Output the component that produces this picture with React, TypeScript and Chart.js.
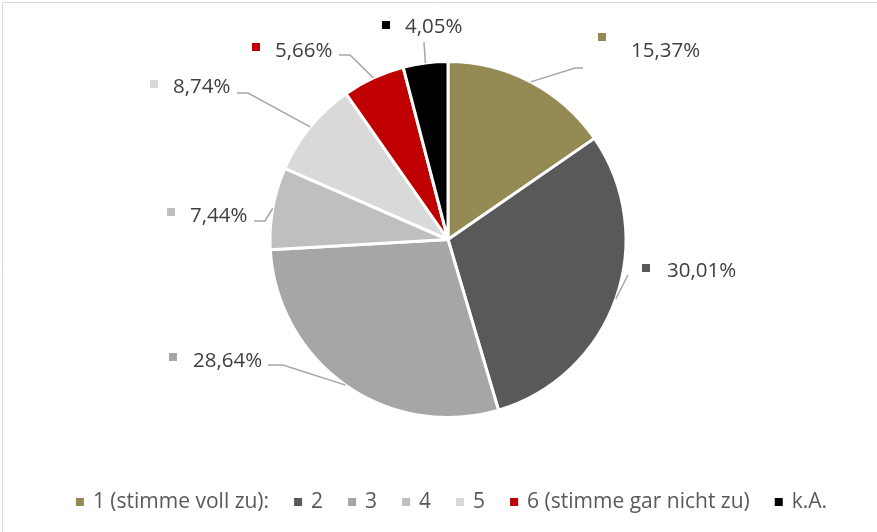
import React, { useEffect, useRef } from "react";
import { Chart, registerables } from "chart.js";

Chart.register(...registerables);

const CATEGORIES = ["1 (stimme voll zu):", "2", "3", "4", "5", "6 (stimme gar nicht zu)", "k.A."];
const VALUES = [15.37, 30.01, 28.64, 7.44, 8.74, 5.66, 4.05];
const COLORS = ["#948A54", "#595959", "#A6A6A6", "#BFBFBF", "#D9D9D9", "#C00000", "#000000"];

// label layout: marker box top-left, text left + baseline, leader points (label side first)
const LABEL_LAYOUT = [
  { box: [598, 33], text: [631, 57], leader: [[583, 68], [575, 68]] },
  { box: [642, 264], text: [667, 277], leader: [[628, 275]] },
  { box: [169, 353], text: [193, 367], leader: [[268, 365], [283, 365]] },
  { box: [167, 208], text: [190, 222], leader: [[254, 221], [265, 221]] },
  { box: [150, 80], text: [173, 93], leader: [[237, 93], [248, 93]] },
  { box: [252, 43], text: [275, 57], leader: [[339, 55], [350, 55]] },
  { box: [382, 21], text: [405, 33], leader: [[424, 42]] },
];

const fmt = (v: number) => v.toFixed(2).replace(".", ",") + "%";

const overlayPlugin = {
  id: "overlay",
  afterDatasetsDraw(chart: any) {
    const ctx = chart.ctx;
    const meta = chart.getDatasetMeta(0);
    const ds = chart.data.datasets[0];
    ctx.save();
    meta.data.forEach((arc: any, i: number) => {
      const p = arc.getProps(["x", "y", "startAngle", "endAngle", "outerRadius"], true);
      const mid = (p.startAngle + p.endAngle) / 2;
      const ex = p.x + Math.cos(mid) * p.outerRadius;
      const ey = p.y + Math.sin(mid) * p.outerRadius;
      const lay = LABEL_LAYOUT[i];
      ctx.beginPath();
      ctx.strokeStyle = "#A6A6A6";
      ctx.lineWidth = 1.5;
      ctx.moveTo(lay.leader[0][0], lay.leader[0][1]);
      for (let k = 1; k < lay.leader.length; k++) ctx.lineTo(lay.leader[k][0], lay.leader[k][1]);
      ctx.lineTo(ex, ey);
      ctx.stroke();
      ctx.fillStyle = ds.backgroundColor[i];
      ctx.fillRect(lay.box[0], lay.box[1], 8, 8);
      ctx.fillStyle = "#404040";
      ctx.font = '20.5px "Open Sans"';
      ctx.textBaseline = "alphabetic";
      ctx.textAlign = "left";
      ctx.fillText(fmt(ds.data[i]), lay.text[0], lay.text[1]);
    });
    ctx.restore();
  },
  afterDraw(chart: any) {
    const ctx = chart.ctx;
    const ds = chart.data.datasets[0];
    const labels: string[] = chart.data.labels;
    ctx.save();
    ctx.font = '21px "Open Sans"';
    const box = 8;
    const gapBox = 9;
    const gapItem = 25;
    const widths = labels.map((l) => box + gapBox + ctx.measureText(l).width);
    const total = widths.reduce((a, b) => a + b, 0) + gapItem * (labels.length - 1);
    let x = 451.5 - total / 2;
    const cy = 502;
    labels.forEach((l, i) => {
      ctx.fillStyle = ds.backgroundColor[i];
      ctx.fillRect(x, cy - 4, box, box);
      ctx.fillStyle = "#595959";
      ctx.textBaseline = "middle";
      ctx.textAlign = "left";
      ctx.fillText(l, x + box + gapBox, cy);
      x += widths[i] + gapItem;
    });
    ctx.strokeStyle = "#D9D9D9";
    ctx.lineWidth = 1;
    ctx.beginPath();
    ctx.moveTo(2.5, 532);
    ctx.lineTo(2.5, 2.5);
    ctx.lineTo(877, 2.5);
    ctx.stroke();
    ctx.restore();
  },
};

export default function App() {
  const ref = useRef<HTMLCanvasElement | null>(null);
  useEffect(() => {
    if (!ref.current) return;
    const chart = new Chart(ref.current, {
      type: "pie",
      data: {
        labels: CATEGORIES,
        datasets: [
          {
            data: VALUES,
            backgroundColor: COLORS,
            borderColor: "#FFFFFF",
            borderWidth: 3,
          },
        ],
      },
      options: {
        responsive: false,
        animation: false,
        layout: { padding: { top: 60, bottom: 113, left: 19, right: 0 } },
        plugins: {
          legend: { display: false },
          tooltip: { enabled: false },
        },
      },
      plugins: [overlayPlugin],
    });
    return () => chart.destroy();
  }, []);
  return (
    <div style={{ position: "fixed", left: 0, top: 0, width: 877, height: 532, background: "#fff" }}>
      <canvas ref={ref} width={877} height={532} style={{ display: "block" }} />
    </div>
  );
}
